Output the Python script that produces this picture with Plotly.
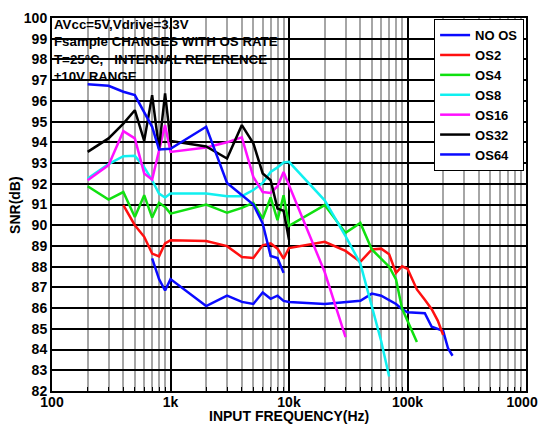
import plotly.graph_objects as go

# ---------------- data ----------------
series_names = ["NO OS", "OS2", "OS4", "OS8", "OS16", "OS32", "OS64"]
series_colors = ["#0a0aff", "#ff1010", "#10e010", "#10f0f0", "#ff10ff", "#000000", "#0a0aff"]

f_noos = [700, 800, 900, 1000, 2000, 3000, 4000, 5000, 6000, 7000, 8000, 9000, 10000,
          20000, 40000, 50000, 60000, 70000, 80000, 90000, 100000, 140000, 160000,
          200000, 220000, 240000]
snr_noos = [88.4, 87.4, 86.85, 87.4, 86.1, 86.6, 86.3, 86.2, 86.75, 86.45, 86.6, 86.35, 86.3,
            86.2, 86.35, 86.7, 86.6, 86.4, 86.2, 85.95, 85.8, 85.75, 85.1,
            84.9, 84.05, 83.7]

f_os2 = [400, 500, 600, 700, 800, 900, 1000, 2000, 3000, 4000, 5000, 6000, 7000, 8000, 9000,
         10000, 20000, 30000, 40000, 50000, 60000, 70000, 80000, 90000, 100000, 120000,
         140000, 160000, 180000, 200000]
snr_os2 = [90.97, 90.0, 89.44, 88.63, 88.5, 89.12, 89.28, 89.24, 88.99, 88.47, 88.42, 89.03,
           89.12, 88.87, 88.39, 88.9, 89.2, 88.76, 88.23, 88.83, 88.87, 88.6, 87.7, 88.02,
           87.9, 86.9, 86.4, 85.95, 85.4, 84.7]

f_os4 = [200, 300, 400, 500, 600, 700, 800, 900, 1000, 2000, 3000, 4000, 5000, 6000, 7000,
         8000, 9000, 10000, 20000, 30000, 40000, 50000, 70000, 80000, 90000, 120000]
snr_os4 = [91.88, 91.24, 91.6, 90.4, 91.45, 90.37, 91.08, 90.88, 90.56, 91.0, 90.6, 90.84,
           91.08, 90.32, 91.34, 90.24, 91.45, 89.97, 90.97, 89.63, 90.11, 88.83, 88.0, 87.38,
           85.98, 84.36]

f_os8 = [200, 300, 400, 500, 600, 700, 800, 900, 1000, 2000, 3000, 4000, 5000, 6000, 7000,
         8000, 9000, 10000, 20000, 30000, 40000, 50000, 60000, 70000]
snr_os8 = [92.25, 92.95, 93.33, 93.35, 92.8, 92.17, 91.53, 91.34, 91.53, 91.53, 91.4, 91.4,
           91.7, 92.04, 92.57, 92.79, 93.03, 93.06, 91.2, 89.47, 88.15, 86.1, 84.4, 82.7]

f_os16 = [200, 300, 400, 500, 600, 700, 900, 1000, 2000, 3000, 4000, 5000, 6000, 7000, 8000,
          9000, 20000, 30000]
snr_os16 = [92.17, 92.9, 94.54, 94.19, 92.5, 92.2, 94.83, 93.54, 93.75, 94.0, 94.24, 92.33,
            91.6, 91.56, 91.88, 92.57, 87.74, 84.6]

f_os32 = [200, 300, 400, 500, 600, 700, 800, 900, 1000, 2000, 3000, 4000, 5000, 6000, 7000,
          8000, 9000, 10000]
snr_os32 = [93.54, 94.19, 94.9, 95.55, 94.07, 96.28, 93.7, 96.36, 94.07, 93.8, 93.22, 94.83,
            93.95, 92.5, 92.17, 90.8, 90.7, 89.3]

f_os64 = [200, 300, 400, 500, 700, 800, 1000, 2000, 3000, 4000, 5000, 6000, 7000, 8000, 9000]
snr_os64 = [96.8, 96.73, 96.44, 96.28, 94.75, 93.66, 93.69, 94.75, 92.04, 91.45, 91.0, 90.08,
            88.52, 88.42, 87.7]

x_major_vals = [100, 1000, 10000, 100000, 1000000]
x_major_text = ["100", "1k", "10k", "100k", "1000k"]
x_minor_vals = [m * d for d in [100, 1000, 10000, 100000] for m in range(2, 10)]

annotation_lines = ["AVcc=5V,Vdrive=3.3V", "Fsample CHANGES WITH OS RATE",
                    "T=25\u00b0C,   INTERNAL REFERENCE", "\u00b110V RANGE"]
x_title = "INPUT FREQUENCY(Hz)"
y_title = "SNR(dB)"

# ---------------- figure ----------------
FONT = "Liberation Sans, Arial, sans-serif"
BOLD14 = dict(family=FONT, size=14, color="black", weight="bold")
xs = [f_noos, f_os2, f_os4, f_os8, f_os16, f_os32, f_os64]
ys = [snr_noos, snr_os2, snr_os4, snr_os8, snr_os16, snr_os32, snr_os64]

fig = go.Figure()
for name, color, x, y in zip(series_names, series_colors, xs, ys):
    fig.add_trace(go.Scatter(x=x, y=y, mode="lines", name=name,
                             line=dict(color=color, width=2.5)))

fig.update_layout(
    width=538, height=425,
    margin=dict(l=52, r=12, t=18, b=34, autoexpand=False),
    paper_bgcolor="white", plot_bgcolor="white",
    font=BOLD14,
    showlegend=True,
    legend=dict(x=0.996, xanchor="right", y=0.997, yanchor="top",
                bgcolor="white", bordercolor="black", borderwidth=1,
                font=dict(family=FONT, size=13, color="black", weight="bold"),
                itemwidth=30, tracegroupgap=0),
    annotations=[
        dict(text="<br>".join(annotation_lines), xref="paper", yref="paper",
             x=0, y=1, xanchor="left", yanchor="top", xshift=0, yshift=3,
             align="left", showarrow=False,
             font=dict(family=FONT, size=13.3, color="black", weight="bold")),
        dict(text=x_title, xref="paper", yref="paper", x=0.5, y=-0.066,
             xanchor="center", yanchor="middle", showarrow=False, font=BOLD14),
        dict(text=y_title, xref="paper", yref="paper", x=-0.078, y=0.499,
             xanchor="center", yanchor="middle", textangle=-90,
             showarrow=False, font=BOLD14),
    ],
)

fig.update_xaxes(
    type="log", range=[2, 6], automargin=False,
    tickmode="array", tickvals=x_major_vals, ticktext=x_major_text,
    ticklabeloverflow="allow",
    showgrid=True, gridcolor="black", gridwidth=1.5,
    showline=True, linecolor="black", linewidth=2, mirror=True,
    ticks="inside", ticklen=5, tickcolor="black",
    minor=dict(tickmode="array", tickvals=x_minor_vals, showgrid=True,
               gridcolor="#a6a6a6", gridwidth=2, ticks="inside", ticklen=4,
               tickcolor="black"),
    tickfont=BOLD14,
    zeroline=False,
)
try:
    fig.update_xaxes(ticklabelstandoff=-3)
except Exception:
    pass
fig.update_yaxes(
    range=[82, 100], dtick=1, tick0=82, automargin=False,
    showgrid=True, gridcolor="black", gridwidth=1.5,
    showline=True, linecolor="black", linewidth=2, mirror=True,
    ticks="",
    tickfont=BOLD14,
    zeroline=False,
)

fig.write_html("out.html")
